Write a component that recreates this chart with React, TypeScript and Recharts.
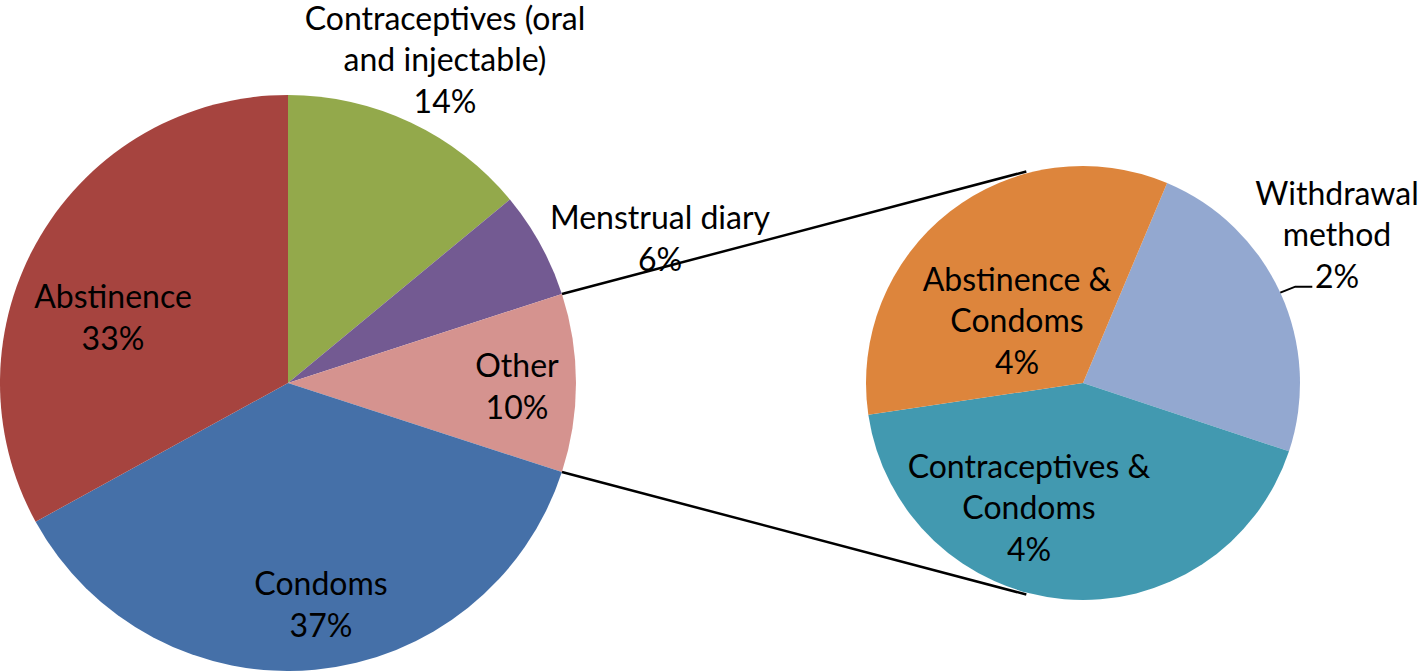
import React from 'react';
import { PieChart, Pie, Cell, Customized } from 'recharts';

// ---------- data ----------
const mainCategories = ['Contraceptives (oral and injectable)', 'Menstrual diary', 'Other', 'Condoms', 'Abstinence'];
const mainValues = [14, 6, 10, 37, 33];
const mainNameLines = [['Contraceptives (oral', 'and injectable)'], ['Menstrual diary'], ['Other'], ['Condoms'], ['Abstinence']];
const mainPctLabels = ['14%', '6%', '10%', '37%', '33%'];
const mainColors = ['#93A94B', '#735A92', '#D5938F', '#4570A8', '#A6443F'];

const subCategories = ['Withdrawal method', 'Contraceptives & Condoms', 'Abstinence & Condoms'];
const subValues = [2.4, 4.3, 3.4];
const subNameLines = [['Withdrawal', 'method'], ['Contraceptives &', 'Condoms'], ['Abstinence &', 'Condoms']];
const subPctLabels = ['2%', '4%', '4%'];
const subColors = ['#93A8D0', '#4299B0', '#DD853C'];

const OTHER_INDEX = 2;

// ---------- layout ----------
const W = 1418;
const H = 671;
const MAIN = { cx: 288, cy: 383, r: 288 };
const SUB = { cx: 1083, cy: 383, r: 217 };
const SUB_START = 67.2;
const CONNECT_ANGLE = 105;
const FONT = 'Lato, "Noto Sans", sans-serif';
const FONT_SIZE = 32;
const LINE_H = 41.5;
const CAP = 22;
const mainLabelOffsets = [[157, -323], [372, -144], [229, 4], [33, 222], [-175, -65]];
const subLabelOffsets = [[254, -148], [-54, 125], [-66, -62]];
const LEADER_ANGLE = 24.6;

const RAD = Math.PI / 180;
const polar = (cx: number, cy: number, r: number, a: number) => ({
  x: cx + r * Math.cos(a * RAD),
  y: cy - r * Math.sin(a * RAD),
});

const mainData = mainCategories.map((name, i) => ({ name, value: mainValues[i] }));
const subData = subCategories.map((name, i) => ({ name, value: subValues[i] }));

const makeLabel = (
  nameLines: string[][],
  pcts: string[],
  offsets: number[][],
  center: { cx: number; cy: number; r: number },
  withLeader: number
) => (props: any) => {
  const { index } = props;
  const cx = typeof props.cx === 'number' ? props.cx : center.cx;
  const cy = typeof props.cy === 'number' ? props.cy : center.cy;
  const lines = [...nameLines[index], pcts[index]];
  const [dx, dy] = offsets[index];
  const x = cx + dx;
  const yc = cy + dy;
  const first = yc - ((lines.length - 1) * LINE_H) / 2 + CAP / 2;
  let leader = null;
  if (index === withLeader) {
    const s = polar(cx, cy, center.r, LEADER_ANGLE);
    leader = (
      <path
        d={`M${s.x},${s.y} L${s.x + 15},${s.y - 6} L${s.x + 32},${s.y - 6}`}
        stroke="#000"
        strokeWidth={2}
        fill="none"
      />
    );
  }
  return (
    <g key={`lbl-${index}`}>
      {leader}
      <text x={x} y={first} textAnchor="middle" fontFamily={FONT} fontSize={FONT_SIZE} fill="#000">
        {lines.map((l, i) => (
          <tspan key={i} x={x} y={first + i * LINE_H}>
            {l}
          </tspan>
        ))}
      </text>
    </g>
  );
};

const Connectors = () => {
  const total = mainValues.reduce((a, b) => a + b, 0);
  const before = mainValues.slice(0, OTHER_INDEX).reduce((a, b) => a + b, 0);
  const startA = 90 - (360 * before) / total;
  const endA = startA - (360 * mainValues[OTHER_INDEX]) / total;
  const p1 = polar(MAIN.cx, MAIN.cy, MAIN.r, startA);
  const p2 = polar(MAIN.cx, MAIN.cy, MAIN.r, endA);
  const q1 = polar(SUB.cx, SUB.cy, SUB.r + 2, CONNECT_ANGLE);
  const q2 = polar(SUB.cx, SUB.cy, SUB.r + 2, -CONNECT_ANGLE);
  return (
    <g>
      <line x1={p1.x} y1={p1.y} x2={q1.x} y2={q1.y} stroke="#000" strokeWidth={2.5} />
      <line x1={p2.x} y1={p2.y} x2={q2.x} y2={q2.y} stroke="#000" strokeWidth={2.5} />
    </g>
  );
};

export default function App() {
  return (
    <div style={{ position: 'absolute', left: 0, top: 0, width: W, height: H, background: '#fff' }}>
      <PieChart width={W} height={H} margin={{ top: 0, right: 0, bottom: 0, left: 0 }}>
        <Pie
          data={mainData}
          dataKey="value"
          nameKey="name"
          cx={MAIN.cx}
          cy={MAIN.cy}
          outerRadius={MAIN.r}
          startAngle={90}
          endAngle={-270}
          stroke="none"
          isAnimationActive={false}
          labelLine={false}
          label={makeLabel(mainNameLines, mainPctLabels, mainLabelOffsets, MAIN, -1)}
        >
          {mainData.map((d, i) => (
            <Cell key={d.name} fill={mainColors[i]} />
          ))}
        </Pie>
        <Pie
          data={subData}
          dataKey="value"
          nameKey="name"
          cx={SUB.cx}
          cy={SUB.cy}
          outerRadius={SUB.r}
          startAngle={SUB_START}
          endAngle={SUB_START - 360}
          stroke="none"
          isAnimationActive={false}
          labelLine={false}
          label={makeLabel(subNameLines, subPctLabels, subLabelOffsets, SUB, 0)}
        >
          {subData.map((d, i) => (
            <Cell key={d.name} fill={subColors[i]} />
          ))}
        </Pie>
        <Customized component={Connectors} />
      </PieChart>
    </div>
  );
}
